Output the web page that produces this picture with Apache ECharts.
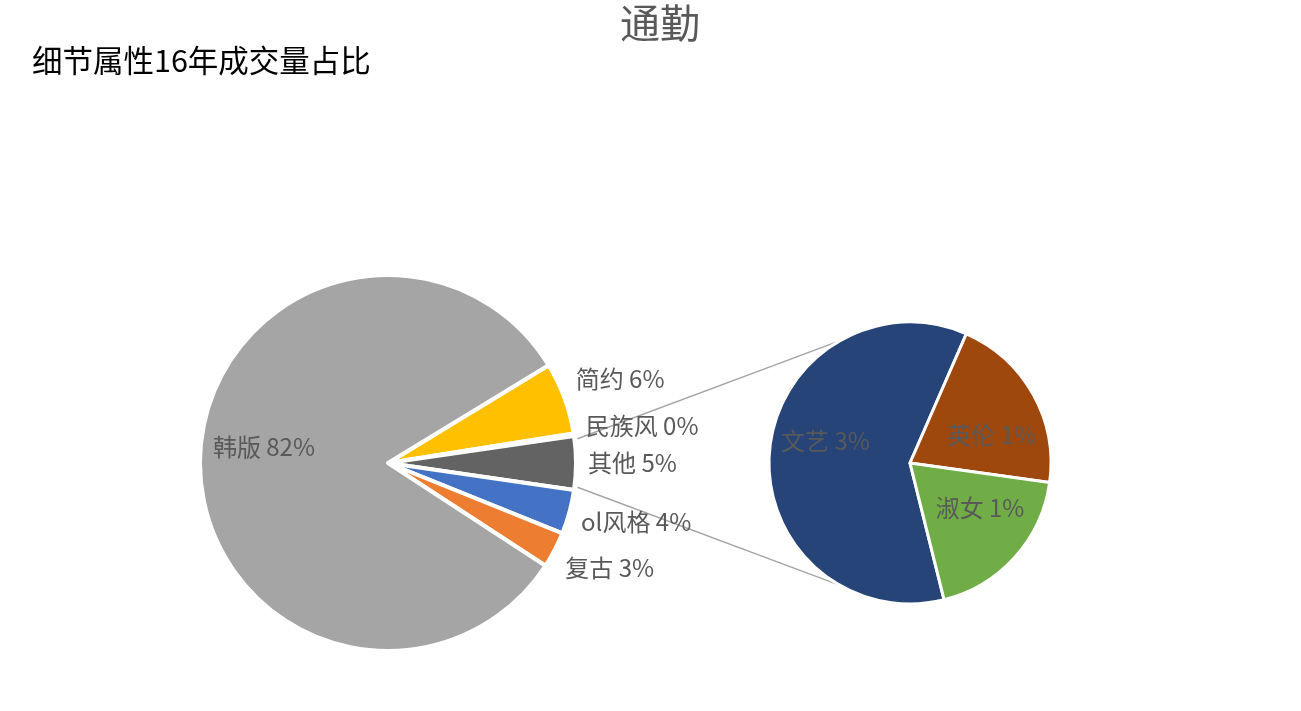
<!DOCTYPE html>
<html>
<head>
<meta charset="utf-8">
<script src="https://cdn.jsdelivr.net/npm/echarts@6/dist/echarts.min.js"></script>
<style>
  html, body { margin: 0; padding: 0; background: #fff; }
  #chart { width: 1301px; height: 711px; }
</style>
</head>
<body>
<div id="chart"></div>
<script>
// --- DATEN ---
// Hauptkreis (im Uhrzeigersinn, ab Oberkante von 简约)
const mainNames = ['简约', '民族风', '其他', 'ol风格', '复古', '韩版'];
const mainValues = [6.2, 0.2, 4.6, 3.8, 3.1, 82.1];
const mainColors = ['#FFC000', '#5B9BD5', '#636363', '#4472C4', '#ED7D31', '#A5A5A5'];

// Sekundärkreis = Aufteilung von "其他"
const subNames = ['文艺', '英伦', '淑女'];
const subValues = [2.78, 0.95, 0.87];
const subColors = ['#264478', '#9E480E', '#70AD47'];

// --- LAYOUT ---
const MAIN_C = [388, 463], MAIN_R = 188;
const SUB_C = [910, 463], SUB_R = 141;
const OTHER_IDX = 2;
const FONT = 'Noto Sans CJK SC';
const LABEL_COLOR = '#595959';
const SUB_LABEL_SHIFT = [-15, 15, -15]; // Excel setzt die Innenlabels etwas versetzt

const sum = arr => arr.reduce((a, b) => a + b, 0);
const pct = v => Math.round(v) + '%';

// Startwinkel so, dass "其他" genau auf 3 Uhr liegt
const mainTotal = sum(mainValues);
let before = 0;
for (let i = 0; i < OTHER_IDX; i++) before += mainValues[i];
const mainStart = (before + mainValues[OTHER_IDX] / 2) / mainTotal * 360;
const subStart = 284;

// Mittelwinkel je Segment (Grad, gegen Uhrzeigersinn ab 3 Uhr)
function midAngles(values, start) {
    const total = sum(values);
    let a = start;
    return values.map(v => {
        const span = v / total * 360;
        const mid = a - span / 2;
        a -= span;
        return mid;
    });
}
const mainMid = midAngles(mainValues, mainStart);
const subMid = midAngles(subValues, subStart);
const rad = d => d * Math.PI / 180;

const chart = echarts.init(document.getElementById('chart'));

// Verbindungslinien von "其他" zum Sekundärkreis
const otherTop = mainStart - before / mainTotal * 360;
const otherBottom = otherTop - mainValues[OTHER_IDX] / mainTotal * 360;
function edgePoint(c, r, deg) {
    return [c[0] + r * Math.cos(rad(deg)), c[1] - r * Math.sin(rad(deg))];
}
const p1 = edgePoint(MAIN_C, MAIN_R + 3, otherTop - 1);
const p2 = edgePoint(MAIN_C, MAIN_R + 3, otherBottom + 1);
const q1 = edgePoint(SUB_C, SUB_R, 120);
const q2 = edgePoint(SUB_C, SUB_R, 240);

const labelStyle = { color: LABEL_COLOR, fontSize: 24, fontFamily: FONT };

chart.setOption({
    backgroundColor: '#fff',
    animation: false,
    title: [
        { text: '通勤', left: 615, top: -2,
          textStyle: { color: '#595959', fontSize: 40, fontWeight: 'normal', fontFamily: FONT } },
        { text: '细节属性16年成交量占比', left: 27, top: 40,
          textStyle: { color: '#000', fontSize: 30.5, fontWeight: 'normal', fontFamily: FONT } }
    ],
    graphic: [
        { type: 'line', shape: { x1: p1[0], y1: p1[1], x2: q1[0], y2: q1[1] },
          style: { stroke: '#A6A6A6', lineWidth: 1.5 }, z: 1 },
        { type: 'line', shape: { x1: p2[0], y1: p2[1], x2: q2[0], y2: q2[1] },
          style: { stroke: '#A6A6A6', lineWidth: 1.5 }, z: 1 }
    ],
    series: [
        {
            type: 'pie',
            center: MAIN_C,
            radius: MAIN_R,
            startAngle: mainStart,
            clockwise: true,
            avoidLabelOverlap: false,
            itemStyle: { borderColor: '#fff', borderWidth: 4 },
            label: { show: true, position: 'outside', ...labelStyle,
                     formatter: p => p.name + ' ' + pct(p.value) },
            labelLine: { show: false },
            emphasis: { disabled: true },
            labelLayout: function (p) {
                const deg = mainMid[p.dataIndex];
                const a = rad(deg);
                if (mainValues[p.dataIndex] > 50) {
                    return { x: MAIN_C[0] + 0.66 * MAIN_R * Math.cos(a),
                             y: MAIN_C[1] - 0.66 * MAIN_R * Math.sin(a) - 14,
                             align: 'center', verticalAlign: 'middle' };
                }
                const ry = deg > 0 ? 245 : 226;
                return { x: MAIN_C[0] + 200 * Math.cos(a),
                         y: MAIN_C[1] - ry * Math.sin(a),
                         align: 'left', verticalAlign: 'middle' };
            },
            data: mainNames.map((n, i) => ({
                name: n, value: mainValues[i], itemStyle: { color: mainColors[i] }
            }))
        },
        {
            type: 'pie',
            center: SUB_C,
            radius: SUB_R,
            startAngle: subStart,
            clockwise: true,
            avoidLabelOverlap: false,
            itemStyle: { borderColor: '#fff', borderWidth: 3 },
            label: { show: true, position: 'inside', ...labelStyle,
                     formatter: p => p.name + ' ' + pct(p.value) },
            labelLine: { show: false },
            emphasis: { disabled: true },
            labelLayout: function (p) {
                const a = rad(subMid[p.dataIndex]);
                return { x: SUB_C[0] + 0.63 * SUB_R * Math.cos(a) + 4,
                         y: SUB_C[1] - 0.63 * SUB_R * Math.sin(a) + SUB_LABEL_SHIFT[p.dataIndex],
                         align: 'center', verticalAlign: 'middle' };
            },
            data: subNames.map((n, i) => ({
                name: n, value: subValues[i], itemStyle: { color: subColors[i] }
            }))
        }
    ]
});

window.addEventListener('resize', () => chart.resize());
</script>
</body>
</html>
